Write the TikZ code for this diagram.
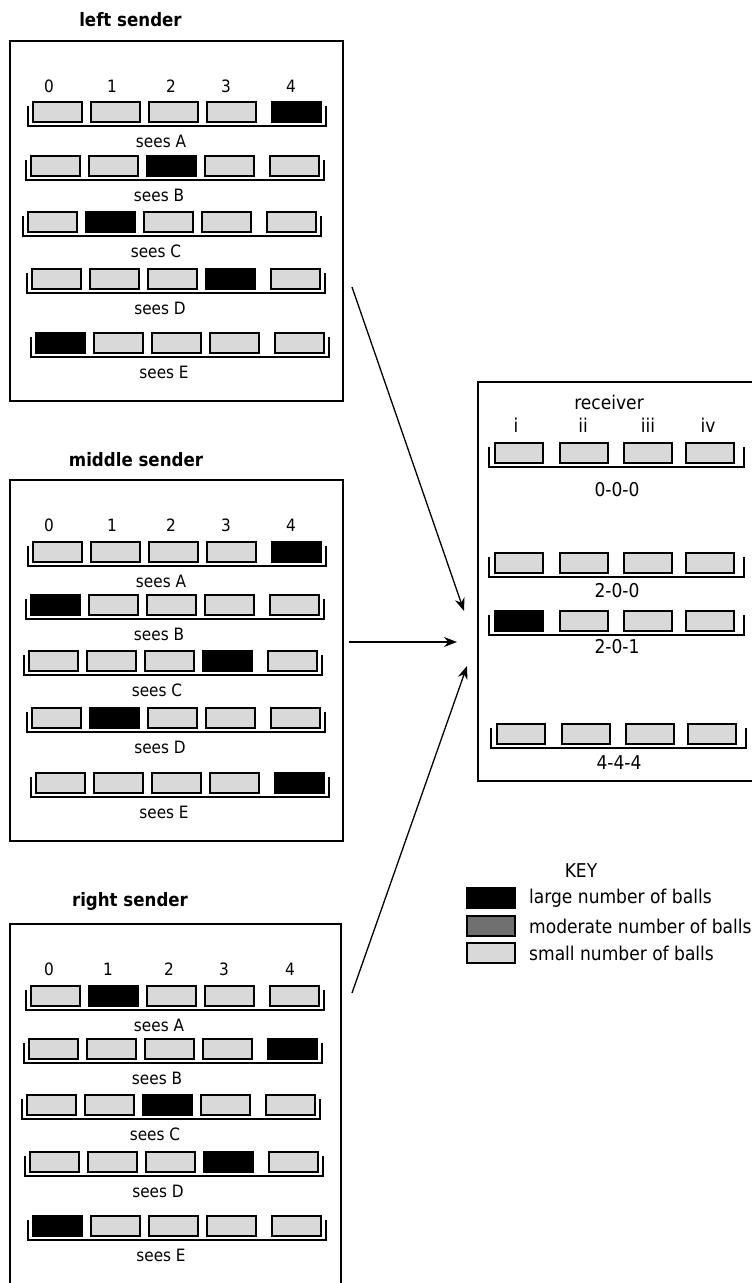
\documentclass[tikz,border=0pt]{standalone}
\usepackage{fontspec}
\setmainfont{DejaVu Sans Condensed}
\usetikzlibrary{arrows.meta}
\definecolor{slotgray}{HTML}{D9D9D9}
\definecolor{midgray}{HTML}{707070}
\newcommand{\sendrow}[5]{%
  \draw[brk] (#2,#3+4) |- (#2+298,#3+24) -- (#2+298,#3+4);
  \foreach \o [count=\i from 0] in {5,63,121,179,244}
    {\ifnum\i=#4 \filldraw[full] (#2+\o,#3) rectangle ++(49,20); \else \draw[slot] (#2+\o,#3) rectangle ++(49,20); \fi}
  \node[lbl] (#1-#5) at (#2+133,#3+39) {sees #5};}
\newcommand{\recvrow}[5]{%
  \draw[brk] (#1,#2+4) |- (#1+255,#2+24) -- (#1+255,#2+4);
  \foreach \o [count=\i from 0] in {6,71,135,197}
    {\ifnum\i=#3 \filldraw[full] (#1+\o,#2) rectangle ++(48,20); \else \draw[slot] (#1+\o,#2) rectangle ++(48,20); \fi}
  \node[biglbl] (r-#4) at (#1+128,#5) {#4};}

\begin{document}
\begin{tikzpicture}[x=1pt,y=-1pt,
  frame/.style={line width=1.8pt},
  slot/.style={draw=black,fill=slotgray,line width=1.6pt},
  full/.style={draw=black,fill=black,line width=1.6pt},
  brk/.style={line width=1.5pt},
  flow/.style={line width=1.3pt,-{Stealth[length=13pt,width=10pt]}},
  lbl/.style={font=\fontsize{17}{20}\selectfont,inner sep=0pt},
  biglbl/.style={font=\fontsize{19}{22}\selectfont,inner sep=0pt},
  ttl/.style={font=\fontsize{18.5}{22}\selectfont\bfseries,inner sep=0pt}]
\useasboundingbox (0,0) rectangle (752,1283);
\node[ttl] (l-title) at (130.5,20) {left sender};
\node[ttl] (m-title) at (136,460) {middle sender};
\node[ttl] (rt-title) at (130,901) {right sender};
\draw[frame] (10,41) rectangle (343,401);
\draw[frame] (10,480) rectangle (343,841);
\draw[frame] (10,1283) |- (341,924) -- (341,1283);
\foreach \n/\x in {0/49,1/112,2/171,3/226,4/291} {\node[lbl] (l-n\n) at (\x,86) {\n}; \node[lbl] (m-n\n) at (\x,525) {\n};}
\foreach \n/\x in {0/49,1/108,2/169,3/224,4/290} \node[lbl] (rt-n\n) at (\x,969) {\n};
\sendrow{l}{28}{102}{4}{A} \sendrow{l}{26}{156}{2}{B} \sendrow{l}{23}{212}{1}{C} \sendrow{l}{27}{269}{3}{D} \sendrow{l}{31}{333}{0}{E}
\sendrow{m}{28}{542}{4}{A} \sendrow{m}{26}{595}{0}{B} \sendrow{m}{24}{651}{3}{C} \sendrow{m}{27}{708}{1}{D} \sendrow{m}{31}{773}{4}{E}
\sendrow{rt}{26}{986}{1}{A} \sendrow{rt}{24}{1039}{4}{B} \sendrow{rt}{22}{1095}{2}{C} \sendrow{rt}{25}{1152}{3}{D} \sendrow{rt}{28}{1216}{0}{E}
\draw[frame] (752,382) -| (478,781) -- (752,781);
\node[biglbl] (recv) at (609,402) {receiver};
\foreach \c/\x in {i/516,ii/583,iii/648,iv/708} \node[biglbl] (c-\c) at (\x,425) {\c};
\recvrow{489}{443}{9}{0-0-0}{490} \recvrow{489}{553}{9}{2-0-0}{591} \recvrow{489}{611}{0}{2-0-1}{647} \recvrow{491}{724}{9}{4-4-4}{763}
\coordinate (l-out) at (352,287); \coordinate (m-out) at (349,642); \coordinate (rt-out) at (352,993);
\coordinate (in-l) at (464,611); \coordinate (in-m) at (457,642); \coordinate (in-rt) at (467,666);
\draw[flow] (l-out) -- (in-l); \draw[flow] (m-out) -- (in-m); \draw[flow] (rt-out) -- (in-rt);
\node[biglbl] (key) at (581,871) {KEY};
\foreach \f/\y/\t in {black/888/large number of balls,midgray/916/moderate number of balls,slotgray/943/small number of balls}
  {\draw[slot,fill=\f] (467,\y) rectangle ++(48,20); \node[biglbl,anchor=west] (key-\f) at (529,\y+10) {\t};}
\end{tikzpicture}
\end{document}
